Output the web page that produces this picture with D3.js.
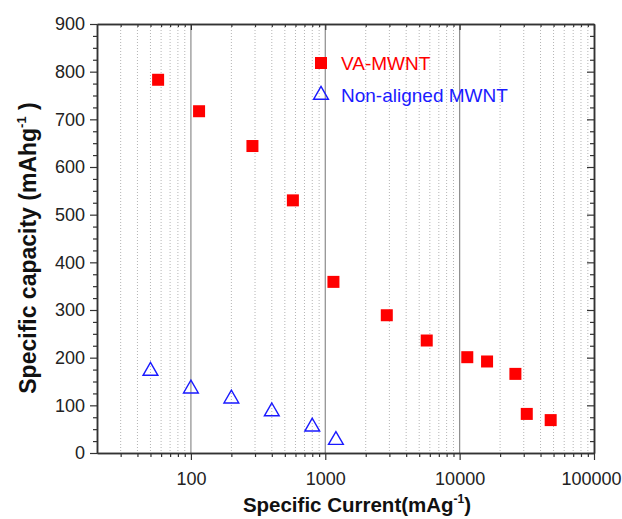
<!DOCTYPE html>
<html>
<head>
<meta charset="utf-8">
<script src="https://cdn.jsdelivr.net/npm/d3@7"></script>
<style>
  body { margin: 0; background: #fff; }
  svg { display: block; font-family: "Liberation Sans", Arial, sans-serif; }
</style>
</head>
<body>
<div id="chart"></div>
<script>
// VA-MWNT (filled red squares)
const vaCurrent = [57, 115, 287, 574, 1150, 2870, 5690, 11400, 16000, 26000, 31600, 47600];
const vaCapacity = [783, 717, 644, 530, 359, 289, 236, 201, 192, 166, 82, 69];
// Non-aligned MWNT (open blue triangles)
const naCurrent = [50, 100, 200, 400, 800, 1200];
const naCapacity = [172, 135, 114, 87, 55, 27];

const xTicks = [100, 1000, 10000, 100000];
const yTicks = [0, 100, 200, 300, 400, 500, 600, 700, 800, 900];
const seriesNames = ["VA-MWNT", "Non-aligned MWNT"];

const width = 622;
const height = 519;
const margin = { top: 24, right: 28, bottom: 66, left: 97 };

const svg = d3.select("#chart")
  .append("svg")
  .attr("width", width)
  .attr("height", height);

const x = d3.scaleLog()
  .domain([20, 100000])
  .range([margin.left, width - margin.right]);

const y = d3.scaleLinear()
  .domain([0, 900])
  .range([height - margin.bottom, margin.top]);

// minor positions on the log axis
const xMinor = [];
[10, 100, 1000, 10000].forEach(dec => {
  for (let k = 2; k <= 9; k++) {
    const v = dec * k;
    if (v > 20 && v < 100000) xMinor.push(v);
  }
});
const yMinor = d3.range(0, 901, 25).filter(v => v % 100 !== 0);

// grid: dotted minor, solid major
svg.append("g")
  .selectAll("line")
  .data(xMinor)
  .join("line")
  .attr("x1", d => x(d)).attr("x2", d => x(d))
  .attr("y1", y(900)).attr("y2", y(0))
  .attr("stroke", "#b4b4b4")
  .attr("stroke-width", 1)
  .attr("stroke-dasharray", "1,2");

svg.append("g")
  .selectAll("line")
  .data(xTicks.slice(0, 3))
  .join("line")
  .attr("x1", d => x(d)).attr("x2", d => x(d))
  .attr("y1", y(900)).attr("y2", y(0))
  .attr("stroke", "#8c8c8c")
  .attr("stroke-width", 1.2);

// axes
function styleAxis(g) {
  g.select(".domain").attr("stroke", "#333").attr("stroke-width", 1.5);
  g.selectAll(".tick line").attr("stroke", "#333").attr("stroke-width", 1.2);
  g.selectAll("text").attr("font-size", "18px").attr("fill", "#222")
    .attr("font-family", "'Liberation Sans', Arial, sans-serif");
}

svg.append("g")
  .attr("transform", `translate(0,${height - margin.bottom})`)
  .call(d3.axisBottom(x).tickValues(xTicks).tickFormat(d3.format("d")).tickSize(7).tickSizeOuter(0).tickPadding(12))
  .call(styleAxis)
  .selectAll("text")
  .filter(d => d === 100000)
  .attr("text-anchor", "end")
  .attr("dx", 27);
svg.append("g")
  .attr("transform", `translate(0,${height - margin.bottom})`)
  .call(d3.axisBottom(x).tickValues(xMinor).tickFormat("").tickSize(4).tickSizeOuter(0))
  .call(styleAxis);

svg.append("g")
  .attr("transform", `translate(0,${margin.top})`)
  .call(d3.axisBottom(x).tickValues(xTicks).tickFormat("").tickSize(6).tickSizeOuter(0))
  .call(styleAxis);
svg.append("g")
  .attr("transform", `translate(0,${margin.top})`)
  .call(d3.axisBottom(x).tickValues(xMinor).tickFormat("").tickSize(3).tickSizeOuter(0))
  .call(styleAxis);

svg.append("g")
  .attr("transform", `translate(${margin.left},0)`)
  .call(d3.axisLeft(y).tickValues(yTicks).tickSize(7).tickSizeOuter(0).tickPadding(5))
  .call(styleAxis);
svg.append("g")
  .attr("transform", `translate(${margin.left},0)`)
  .call(d3.axisLeft(y).tickValues(yMinor).tickFormat("").tickSize(4).tickSizeOuter(0))
  .call(styleAxis);

svg.append("g")
  .attr("transform", `translate(${width - margin.right},0)`)
  .call(d3.axisLeft(y).tickValues(yTicks).tickFormat("").tickSize(7).tickSizeOuter(0))
  .call(styleAxis);
svg.append("g")
  .attr("transform", `translate(${width - margin.right},0)`)
  .call(d3.axisLeft(y).tickValues(yMinor).tickFormat("").tickSize(4).tickSizeOuter(0))
  .call(styleAxis);

// data
const sq = 12;
svg.append("g")
  .selectAll("rect")
  .data(d3.zip(vaCurrent, vaCapacity))
  .join("rect")
  .attr("x", d => x(d[0]) - sq / 2)
  .attr("y", d => y(d[1]) - sq / 2)
  .attr("width", sq)
  .attr("height", sq)
  .attr("fill", "#ff0000");

const tri = d3.symbol().type(d3.symbolTriangle).size(95);
svg.append("g")
  .selectAll("path")
  .data(d3.zip(naCurrent, naCapacity))
  .join("path")
  .attr("transform", d => `translate(${x(d[0])},${y(d[1])})`)
  .attr("d", tri)
  .attr("fill", "none")
  .attr("stroke", "#1a1aff")
  .attr("stroke-width", 1.4);

// legend
const legend = svg.append("g");
legend.append("rect")
  .attr("x", 321 - sq / 2).attr("y", 63 - sq / 2)
  .attr("width", sq).attr("height", sq)
  .attr("fill", "#ff0000");
legend.append("text")
  .attr("x", 341).attr("y", 70)
  .attr("font-size", "19px").attr("fill", "#ff0000")
  .text(seriesNames[0]);
legend.append("path")
  .attr("transform", "translate(321,95)")
  .attr("d", tri)
  .attr("fill", "none").attr("stroke", "#1a1aff").attr("stroke-width", 1.4);
legend.append("text")
  .attr("x", 341).attr("y", 102)
  .attr("font-size", "19px").attr("fill", "#1a1aff")
  .text(seriesNames[1]);

// axis titles
const xTitle = svg.append("text")
  .attr("x", 357).attr("y", 512)
  .attr("text-anchor", "middle")
  .attr("font-size", "20.5px").attr("font-weight", "bold").attr("fill", "#111");
xTitle.append("tspan").text("Specific Current(mAg");
xTitle.append("tspan").attr("font-size", "12px").attr("dy", -9).text("-1");
xTitle.append("tspan").attr("dy", 9).text(")");

const yTitle = svg.append("text")
  .attr("transform", "translate(36,248) rotate(-90)")
  .attr("text-anchor", "middle")
  .attr("font-size", "23px").attr("font-weight", "bold").attr("fill", "#111");
yTitle.append("tspan").text("Specific capacity (mAhg");
yTitle.append("tspan").attr("font-size", "13px").attr("dy", -10).text("-1");
yTitle.append("tspan").attr("dy", 10).text(" )");
</script>
</body>
</html>
